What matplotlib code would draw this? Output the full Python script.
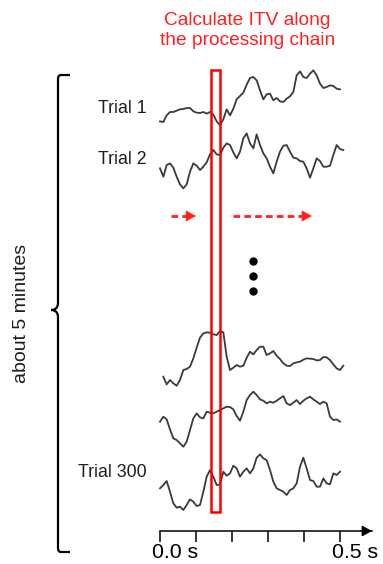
import numpy as np
import matplotlib.pyplot as plt
from matplotlib.patches import Rectangle, PathPatch
from matplotlib.path import Path
from matplotlib.transforms import ScaledTranslation

plt.rcParams['font.family'] = ['Liberation Sans', 'DejaVu Sans']

# one sample every ~9.3 ms, 0 .. ~0.51 s
dt = 10 / 1080

# trace amplitudes (arbitrary units, up = positive)
trial1 = [-28, -30, -10, 0, 0, 4, 8, 9, 12, 12, 2, -2, -3, 0, -5, 0, -8, -28, -40, -22,
          8, -10, 10, 38, 48, 58, 82, 102, 105, 95, 65, 38, 53, 55, 35, 42, 32, 30, 40, 47,
          60, 110, 122, 105, 102, 115, 125, 110, 85, 72, 75, 80, 78, 70, 68, np.nan]
trial2 = [-20, -45, -10, -5, -18, -45, -68, -80, -68, -30, -5, -12, -25, -15, -2, 22, 35, 22, 20, 42,
          55, 50, 28, 10, 30, 70, 85, 55, 40, 82, 50, 25, 10, -15, -35, 0, 30, 48, 50, 30,
          12, 10, 2, 0, -20, -48, -20, 10, 2, -15, -15, -12, 20, 50, 38, 35]
trial3 = [np.nan, -45, -68, -55, -65, -72, -55, -25, -22, -15, 10, 42, 72, 85, 88, 87, 82, 80, 92, 88,
          15, -25, -18, -10, -15, -12, 12, 30, 22, 35, 45, 45, 20, 25, 32, 18, 8, -5, -12, -13,
          -5, -2, 0, 6, 10, 9, 8, 4, 5, 14, 13, 5, -8, -20, -25, -12]
trial4 = [-15, 0, -8, -38, -65, -70, -80, -90, -75, -40, -5, 10, -2, -5, 15, 12, 10, 15, 20, 25,
          30, 29, 22, 2, -12, 15, 50, 65, 75, 65, 52, 48, 40, 45, 42, 48, 55, 62, 40, 35,
          42, 50, 38, 48, 55, 60, 52, 45, 38, 45, 40, 0, -10, -8, -15, np.nan]
trial300 = [-20, -10, 2, -30, -65, -78, -75, -85, -70, -53, -60, -73, -70, -30, 15, 35, 15, -10, -8, 30,
            18, 25, 48, 40, 15, 30, 40, 25, 40, 72, 82, 70, 65, 35, 0, -20, -25, -30, -40, -25,
            -20, -5, 45, 72, 40, 5, 2, -15, -15, 10, -5, -8, 25, 20, 30, np.nan]

traces = [trial1, trial2, trial3, trial4, trial300]
trace_rows = [112, 161.7, 361.7, 416.7, 481.7]
gain = 1 / 3

trial_labels = ['Trial 1', 'Trial 2', 'Trial 300']
label_rows = [113, 164, 477]

ticks = [0.0, 0.1, 0.2, 0.3, 0.4, 0.5]
tick_labels = ['0.0 s', '', '', '', '', '0.5 s']

itv_window = (0.142, 0.166)
arrow_spans = [(0.031, 0.100), (0.203, 0.422)]
dot_t = 0.258
dot_rows = [261, 276, 291]

W, H = 383, 564
fig = plt.figure(figsize=(W / 100, H / 100), dpi=100)

# overlay in pixel units for the brace and labels
deco = fig.add_axes([0, 0, 1, 1])
deco.set_xlim(0, W)
deco.set_ylim(H, 0)
deco.axis('off')

# time axes
ax = fig.add_axes([160 / W, 1 - 531 / H, (372 - 160) / W, 531 / H])
ax.set_xlim(0, 212 / 360)
ax.set_ylim(531, 0)
ax.patch.set_visible(False)
for s in ['left', 'top', 'right']:
    ax.spines[s].set_visible(False)
ax.spines['bottom'].set_linewidth(1.1)
ax.set_yticks([])
ax.set_xticks(ticks, tick_labels)
ax.tick_params(axis='x', direction='out', length=8, width=1.1, labelsize=15.3, pad=0.5)
off = ScaledTranslation(-8 / 100, 0, fig.dpi_scale_trans)
for lab in ax.get_xticklabels():
    lab.set_horizontalalignment('left')
    lab.set_transform(lab.get_transform() + off)
ax.annotate('', xy=(1, 0), xytext=(0.95, 0), xycoords='axes fraction',
            arrowprops=dict(arrowstyle='-|>,head_length=0.58,head_width=0.32',
                            color='black', lw=1.1, shrinkA=0, shrinkB=0, mutation_scale=10),
            annotation_clip=False)

# trials
for vals, row in zip(traces, trace_rows):
    v = np.array(vals, dtype=float)
    t = np.arange(len(v)) * dt
    ax.plot(t, row - v * gain, color='#3a3a3a', lw=1.3, clip_on=False)

# ITV window
ax.add_patch(Rectangle((itv_window[0], 69.5), itv_window[1] - itv_window[0], 442.2,
                       fill=False, edgecolor='#ff0000', lw=1.8, zorder=5, clip_on=False))

# processing-chain arrows
for a, b in arrow_spans:
    ax.plot([a, b - 0.016], [216, 216], color='#ff2020', lw=2.0, dashes=[2.4, 1.5],
            dash_capstyle='butt')
    ax.annotate('', xy=(b, 216), xytext=(b - 0.016, 216),
                arrowprops=dict(arrowstyle='-|>,head_length=0.55,head_width=0.3',
                                color='#ff2020', lw=0.5, shrinkA=0, shrinkB=0, mutation_scale=12))

ax.plot([dot_t] * 3, dot_rows, 'o', color='black', ms=5)

# brace
verts = [(70, 75), (61, 75), (58, 75), (58, 79), (58, 303), (58, 310), (51, 310),
         (58, 310), (58, 317), (58, 548), (58, 552), (61, 552), (70, 552)]
codes = [Path.MOVETO, Path.LINETO, Path.CURVE3, Path.CURVE3, Path.LINETO, Path.CURVE3, Path.CURVE3,
         Path.CURVE3, Path.CURVE3, Path.LINETO, Path.CURVE3, Path.CURVE3, Path.LINETO]
deco.add_patch(PathPatch(Path(verts, codes), fill=False, lw=1.6, edgecolor='black'))
deco.text(22, 313, 'about 5 minutes', rotation=90, ha='center', va='center', fontsize=14, color='#1e1e1e')

for lab, row in zip(trial_labels, label_rows):
    deco.text(147, row, lab, ha='right', va='baseline', fontsize=12.8, color='#1e1e1e')

deco.text(247, 25, 'Calculate ITV along', ha='center', va='baseline', fontsize=13.8, color='#ff2020')
deco.text(248, 45, 'the processing chain', ha='center', va='baseline', fontsize=13.8, color='#ff2020')

fig.savefig('out.png', dpi=100)
